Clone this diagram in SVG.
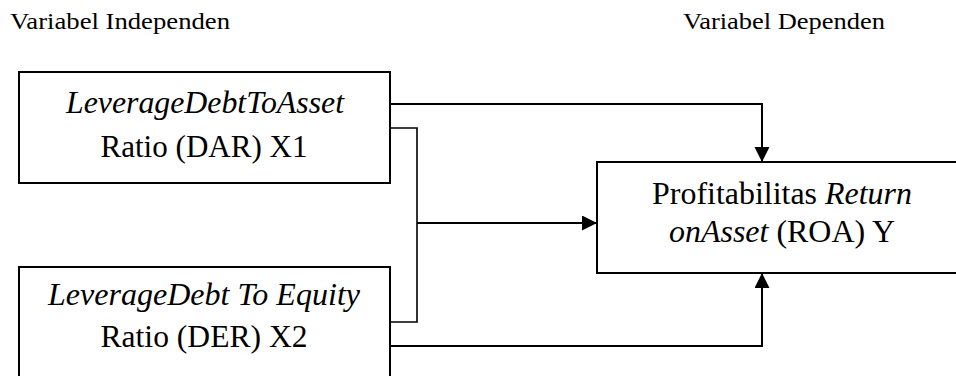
<svg xmlns="http://www.w3.org/2000/svg" width="956" height="376" viewBox="0 0 956 376">
<defs>
<style>
.box{fill:#fff;stroke:#000;stroke-width:2}
.c{fill:none;stroke:#000;stroke-width:2}
.f{font-family:"Times New Roman","Liberation Serif",Tinos,serif;fill:#000}
</style>
<marker id="ar" markerUnits="userSpaceOnUse" markerWidth="16" markerHeight="16" refX="15" refY="7.5" orient="auto" viewBox="0 0 16 16">
<path d="M0,0 L15,7.5 L0,15 z" fill="#000"/>
</marker>
</defs>
<g class="f" font-size="23">
<text x="10" y="29" textLength="220" lengthAdjust="spacingAndGlyphs">Variabel Independen</text>
<text x="683" y="29" textLength="202" lengthAdjust="spacingAndGlyphs">Variabel Dependen</text>
</g>
<g id="connectors">
<polyline class="c" points="390,104 762,104 762,162" marker-end="url(#ar)"/>
<polyline class="c" points="390,128 417,128 417,322 390,322" style="stroke-width:1.6"/>
<line class="c" x1="417" y1="223" x2="597" y2="223" marker-end="url(#ar)"/>
<polyline class="c" points="390,346 762,346 762,273" marker-end="url(#ar)"/>
</g>
<g id="x1" class="f" font-size="31">
<rect class="box" x="19" y="72" width="371" height="111"/>
<text font-style="italic" x="205" y="113" text-anchor="middle" textLength="278" lengthAdjust="spacingAndGlyphs">LeverageDebtToAsset</text>
<text x="204" y="157" text-anchor="middle" textLength="207" lengthAdjust="spacingAndGlyphs">Ratio (DAR) X1</text>
</g>
<g id="x2" class="f" font-size="31">
<rect class="box" x="19" y="267" width="371" height="115"/>
<text font-style="italic" x="204" y="305" text-anchor="middle" textLength="312" lengthAdjust="spacingAndGlyphs">LeverageDebt To Equity</text>
<text x="204" y="347" text-anchor="middle" textLength="207" lengthAdjust="spacingAndGlyphs">Ratio (DER) X2</text>
</g>
<g id="y" class="f" font-size="31">
<rect class="box" x="597" y="162" width="370" height="111"/>
<text x="782" y="204" text-anchor="middle" textLength="260" lengthAdjust="spacingAndGlyphs">Profitabilitas <tspan font-style="italic">Return</tspan></text>
<text x="782" y="242" text-anchor="middle" textLength="226" lengthAdjust="spacingAndGlyphs"><tspan font-style="italic">onAsset</tspan> (ROA) Y</text>
</g>
</svg>
